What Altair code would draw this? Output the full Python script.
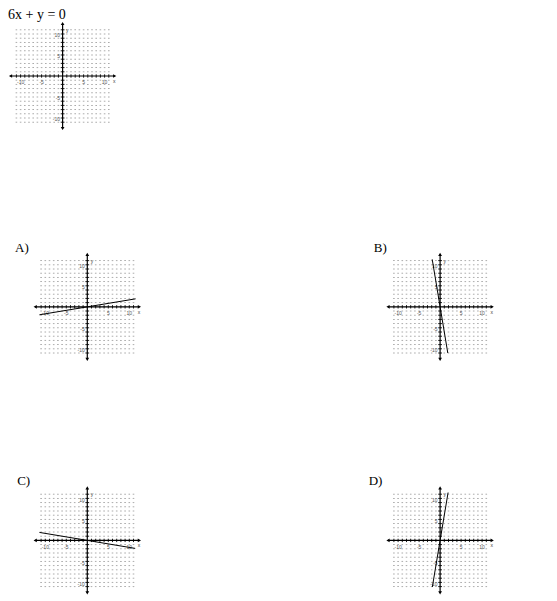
import altair as alt
import pandas as pd

U = 4.2  # pixels per unit

# ---- data ----
title_text = "6x + y = 0"
option_labels = ["A)", "B)", "C)", "D)"]
# end points of the drawn line in each answer option (x, y pairs)
line_x = {"A)": [-11.4, 11.5], "B)": [-1.88, 1.83], "C)": [-11.4, 11.4], "D)": [-1.85, 1.9]}
line_y = {"A)": [-1.9, 1.9], "B)": [11.3, -11.0], "C)": [1.9, -1.9], "D)": [-11.1, 11.4]}
grid_values = list(range(-11, 12))
tick_values = [-10, -5, 5, 10]
tick_texts = ["-10", "-5", "5", "10"]
axis_end_x = 12.4
axis_end_y = 12.5

SERIF = "Liberation Serif"


def panel(xd, yd, label, label_xy, label_size, key=None):
    xs = alt.Scale(domain=xd, nice=False, zero=False)
    ys = alt.Scale(domain=yd, nice=False, zero=False)

    def X(f):
        return alt.X(f, type="quantitative", scale=xs, axis=None)

    def Y(f):
        return alt.Y(f, type="quantitative", scale=ys, axis=None)

    layers = []
    grid = pd.DataFrame(
        [(i, j) for i in grid_values for j in grid_values if i != 0 and j != 0],
        columns=["gx", "gy"],
    )
    layers.append(
        alt.Chart(grid)
        .mark_point(shape="M-0.8,-0.5H0.8V0.5H-0.8Z", filled=True, size=4,
                    color="#ababab", opacity=1)
        .encode(x=X("gx"), y=Y("gy"))
    )

    # axis ticks
    xt = pd.DataFrame({"tx": [v for v in grid_values if v != 0]})
    xt["t0"] = -0.4
    xt["t1"] = 0.4
    layers.append(
        alt.Chart(xt).mark_rule(color="black", strokeWidth=0.9)
        .encode(x=X("tx"), y=Y("t0"), y2="t1")
    )
    yt = pd.DataFrame({"ty": [v for v in grid_values if v != 0]})
    yt["t0"] = -0.45
    yt["t1"] = 0.45
    layers.append(
        alt.Chart(yt).mark_rule(color="black", strokeWidth=0.9)
        .encode(y=Y("ty"), x=X("t0"), x2="t1")
    )

    # axes
    axes = pd.DataFrame({
        "ax": [-axis_end_x, 0.0], "ax2": [axis_end_x, 0.0],
        "ay": [0.0, -axis_end_y], "ay2": [0.0, axis_end_y],
    })
    layers.append(
        alt.Chart(axes).mark_rule(color="black", strokeWidth=1.2)
        .encode(x=X("ax"), x2="ax2", y=Y("ay"), y2="ay2")
    )
    arrows = pd.DataFrame({
        "px": [-axis_end_x, axis_end_x, 0.0, 0.0],
        "py": [0.0, 0.0, axis_end_y, -axis_end_y],
        "s": ["triangle-left", "triangle-right", "triangle-up", "triangle-down"],
    })
    layers.append(
        alt.Chart(arrows).mark_point(filled=True, color="black", size=14, opacity=1)
        .encode(x=X("px"), y=Y("py"), shape=alt.Shape("s:N", scale=None, legend=None))
    )

    # tick labels
    xl = pd.DataFrame({"lx": tick_values, "txt": tick_texts})
    xl["ly"] = -1.5
    layers.append(
        alt.Chart(xl).mark_text(fontSize=5, font="Liberation Sans", color="#555",
                                baseline="middle", align="center")
        .encode(x=X("lx"), y=Y("ly"), text="txt:N")
    )
    yl = pd.DataFrame({"ly": tick_values, "txt": tick_texts})
    yl["lx"] = -0.6
    layers.append(
        alt.Chart(yl).mark_text(fontSize=5, font="Liberation Sans", color="#555",
                                baseline="middle", align="right", dy=1.5)
        .encode(x=X("lx"), y=Y("ly"), text="txt:N")
    )
    names = pd.DataFrame({"nx": [12.3, 1.1], "ny": [-1.2, 11.0], "txt": ["x", "y"]})
    layers.append(
        alt.Chart(names).mark_text(fontSize=5, font="Liberation Sans", color="#444",
                                   baseline="middle", align="center")
        .encode(x=X("nx"), y=Y("ny"), text="txt:N")
    )

    # the plotted line
    if key is not None:
        ld = pd.DataFrame({"lx": line_x[key], "ly": line_y[key]})
        layers.append(
            alt.Chart(ld).mark_line(color="black", strokeWidth=1.0)
            .encode(x=X("lx"), y=Y("ly"))
        )

    # panel label
    lab = pd.DataFrame({"bx": [label_xy[0]], "by": [label_xy[1]], "txt": [label]})
    layers.append(
        alt.Chart(lab).mark_text(fontSize=label_size, font=SERIF, color="black",
                                 align="left", baseline="alphabetic")
        .encode(x=X("bx"), y=Y("by"), text="txt:N")
    )

    w = (xd[1] - xd[0]) * U
    h = (yd[1] - yd[0]) * U
    return alt.layer(*layers).properties(width=w, height=h)


top = panel([-13.0, 12.6], [-12.6, 16.19], title_text, (-13.0, 13.57), 14)
pA = panel([-18.88, 12.6], [-12.6, 14.55], option_labels[0], (-17.2, 13.1), 13, "A)")
pB = panel([-17.5, 12.6], [-12.6, 14.55], option_labels[1], (-15.8, 13.1), 13, "B)")
pC = panel([-18.88, 12.6], [-12.5, 15.0], option_labels[2], (-16.7, 13.3), 13, "C)")
pD = panel([-17.5, 12.6], [-12.5, 15.0], option_labels[3], (-17.0, 13.3), 13, "D)")

spacer = (
    alt.Chart(pd.DataFrame({"a": [0]}))
    .mark_point(opacity=0)
    .encode(x=alt.X("a:Q", axis=None), y=alt.Y("a:Q", axis=None))
    .properties(width=10, height=10)
)

chart = (
    alt.concat(top, spacer, pA, pB, pC, pD, columns=2,
               spacing={"row": 116.7, "column": 225.6}, bounds="flush")
    .properties(padding=0)
    .configure_view(stroke=None)
)

chart.save("out.html", embed_options={"renderer": "svg", "actions": False})
